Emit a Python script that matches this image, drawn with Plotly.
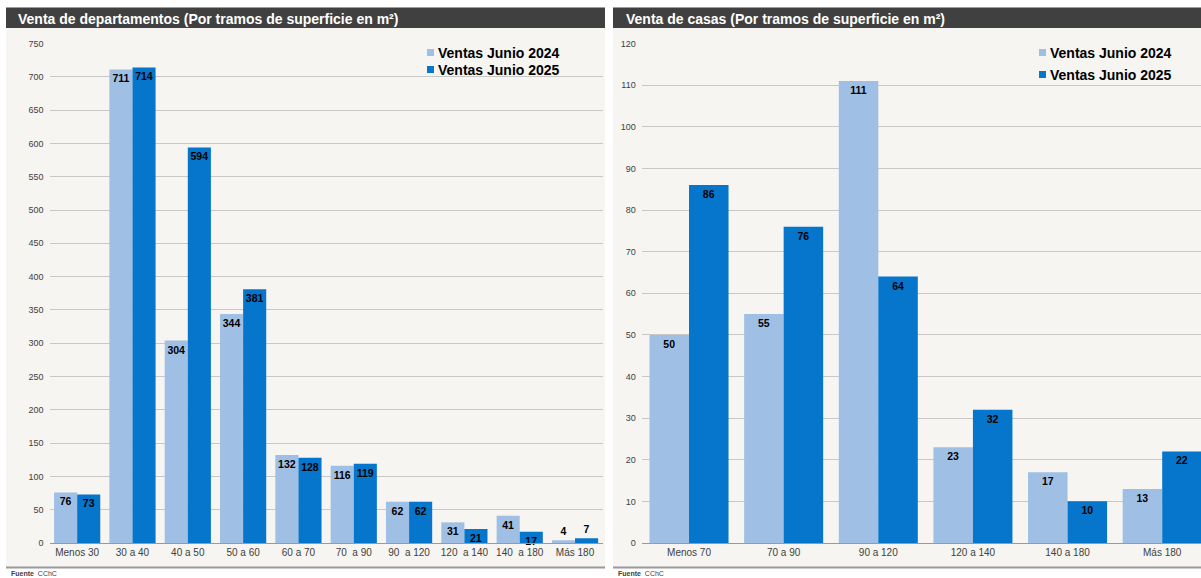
import plotly.graph_objects as go

W, H = 1201, 578

# ---- data ----
dep_cats = ["Menos 30", "30 a 40", "40 a 50", "50 a 60", "60 a 70", "70  a 90",
            "90  a 120", "120  a 140", "140  a 180", "Más 180"]
dep_2024 = [76, 711, 304, 344, 132, 116, 62, 31, 41, 4]
dep_2025 = [73, 714, 594, 381, 128, 119, 62, 21, 17, 7]

cas_cats = ["Menos 70", "70 a 90", "90 a 120", "120 a 140", "140 a 180", "Más 180"]
cas_2024 = [50, 55, 111, 23, 17, 13]
cas_2025 = [86, 76, 64, 32, 10, 22]

dep_ticks = list(range(0, 751, 50))
cas_ticks = list(range(0, 121, 10))

series_names = ["Ventas Junio 2024", "Ventas Junio 2025"]

C_LIGHT = "#a0bfe4"
C_DARK = "#0576cc"
BG = "#f6f5f1"
FONT = "Liberation Sans, Arial, sans-serif"


def px(x):
    return x / W


def py(y):
    return 1 - y / H


def tpos(vals, ymax):
    return ["outside" if v / ymax < 0.02 else "inside" for v in vals]


fig = go.Figure()

common = dict(textangle=0, constraintext="none", insidetextanchor="end",
              textfont=dict(family=FONT, size=10.5, color="black", weight="bold"),
              marker_line_width=0, cliponaxis=False, showlegend=False)

fig.add_bar(x=dep_cats, y=dep_2024, name=series_names[0], marker_color=C_LIGHT,
            text=[str(v) for v in dep_2024], textposition=tpos(dep_2024, 750),
            xaxis="x", yaxis="y", **common)
fig.add_bar(x=dep_cats, y=dep_2025, name=series_names[1], marker_color=C_DARK,
            text=[str(v) for v in dep_2025], textposition=tpos(dep_2025, 750),
            xaxis="x", yaxis="y", **common)
fig.add_bar(x=cas_cats, y=cas_2024, name=series_names[0], marker_color=C_LIGHT,
            text=[str(v) for v in cas_2024], textposition=tpos(cas_2024, 120),
            xaxis="x2", yaxis="y2", **common)
fig.add_bar(x=cas_cats, y=cas_2025, name=series_names[1], marker_color=C_DARK,
            text=[str(v) for v in cas_2025], textposition=tpos(cas_2025, 120),
            xaxis="x2", yaxis="y2", **common)

ydom = [py(543), py(43.5)]
axis_font = dict(family=FONT, size=10, color="#404040")
ytick_font = dict(family=FONT, size=9, color="#404040")

shapes = [
    # panel backgrounds
    dict(type="rect", xref="paper", yref="paper", x0=px(6), x1=px(605), y0=py(567), y1=py(27),
         fillcolor=BG, line_width=0, layer="below"),
    dict(type="rect", xref="paper", yref="paper", x0=px(613), x1=px(1201), y0=py(567), y1=py(27),
         fillcolor=BG, line_width=0, layer="below"),
    # header bars
    dict(type="rect", xref="paper", yref="paper", x0=px(6), x1=px(605), y0=py(28), y1=py(7.5),
         fillcolor="#404040", line_width=0, layer="below"),
    dict(type="rect", xref="paper", yref="paper", x0=px(613), x1=px(1201), y0=py(28), y1=py(7.5),
         fillcolor="#404040", line_width=0, layer="below"),
    # bottom rules
    dict(type="line", xref="paper", yref="paper", x0=px(6), x1=px(605), y0=py(567.5), y1=py(567.5),
         line=dict(color="#9a9a9a", width=2)),
    dict(type="line", xref="paper", yref="paper", x0=px(613), x1=px(1201), y0=py(567.5), y1=py(567.5),
         line=dict(color="#9a9a9a", width=2)),
]

annotations = [
    dict(text="<b>Venta de departamentos (Por tramos de superficie en m²)</b>", xref="paper", yref="paper",
         x=px(16), y=py(19), xanchor="left", yanchor="middle", showarrow=False,
         font=dict(family=FONT, size=14, color="white")),
    dict(text="<b>Venta de casas (Por tramos de superficie en m²)</b>", xref="paper", yref="paper",
         x=px(624), y=py(19), xanchor="left", yanchor="middle", showarrow=False,
         font=dict(family=FONT, size=14, color="white")),
    dict(text="<b>Fuente</b>  CChC", xref="paper", yref="paper", x=px(10), y=py(578),
         xanchor="left", yanchor="bottom", showarrow=False, borderpad=0,
         font=dict(family=FONT, size=7, color="#404040")),
    dict(text="<b>Fuente</b>  CChC", xref="paper", yref="paper", x=px(617), y=py(578),
         xanchor="left", yanchor="bottom", showarrow=False, borderpad=0,
         font=dict(family=FONT, size=7, color="#404040")),
]

# legends (square swatch + bold label), one block per panel
legend_specs = [
    (427, [52.5, 69.5]),
    (1039, [52.5, 74.5]),
]
for lx, rows in legend_specs:
    for name, col, ry in zip(series_names, [C_LIGHT, C_DARK], rows):
        shapes.append(dict(type="rect", xref="paper", yref="paper", x0=px(lx), x1=px(lx + 7),
                           y0=py(ry + 3.5), y1=py(ry - 3.5), fillcolor=col, line_width=0))
        annotations.append(dict(text=f"<b>{name}</b>", xref="paper", yref="paper",
                                x=px(lx + 9), y=py(ry), xanchor="left", yanchor="middle",
                                showarrow=False, font=dict(family=FONT, size=14, color="black")))

fig.update_layout(
    width=W, height=H, margin=dict(l=0, r=0, t=0, b=0, autoexpand=False),
    paper_bgcolor="white", plot_bgcolor=BG,
    barmode="group", bargap=0.165, bargroupgap=0,
    font=dict(family=FONT),
    shapes=shapes, annotations=annotations,
    showlegend=False,
    xaxis=dict(domain=[px(49.5), px(602.7)], anchor="y", tickfont=axis_font, showline=True,
               linecolor="#9a9a9a", linewidth=1, ticks="", showgrid=False, range=[-0.5, 9.5]),
    yaxis=dict(domain=ydom, anchor="x", range=[0, 750], tickvals=dep_ticks, tickfont=ytick_font,
               showgrid=True, gridcolor="#c8c8c8", gridwidth=1, zeroline=False, ticks="",
               ticklabelstandoff=5),
    xaxis2=dict(domain=[px(641.7), 1.0], anchor="y2", tickfont=axis_font, showline=True,
                linecolor="#9a9a9a", linewidth=1, ticks="", showgrid=False, range=[-0.5, 5.41]),
    yaxis2=dict(domain=ydom, anchor="x2", range=[0, 120], tickvals=cas_ticks, tickfont=ytick_font,
                showgrid=True, gridcolor="#c8c8c8", gridwidth=1, zeroline=False, ticks="",
                ticklabelstandoff=5),
)

fig.write_html("out.html")
